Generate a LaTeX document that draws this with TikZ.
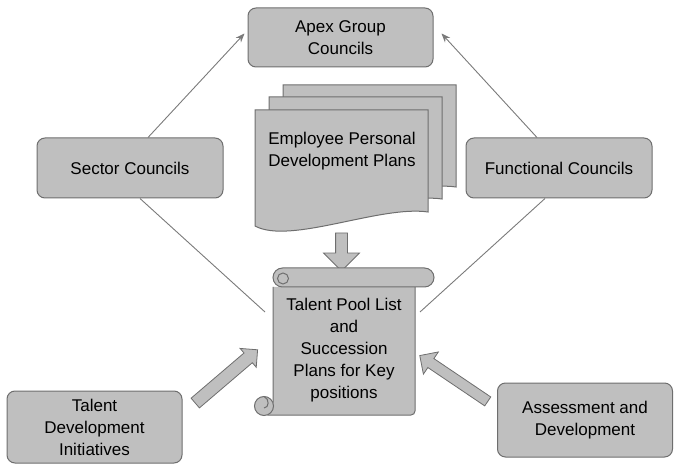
\documentclass[tikz,border=0pt]{standalone}
\usepackage{fontspec}
\setmainfont{Liberation Sans}
\usetikzlibrary{shapes.arrows, arrows.meta, calc}
\definecolor{boxfill}{HTML}{BFBFBF}
\definecolor{boxline}{HTML}{6E6E6E}
\definecolor{linkgray}{HTML}{7A7A7A}
\tikzstyle{council} = [rectangle, rounded corners=8pt, minimum width=186pt, minimum height=60pt, text centered, align=center, draw=boxline, line width=1pt, fill=boxfill]
\tikzstyle{page} = [draw=boxline, line width=1pt, fill=boxfill]
\tikzstyle{fatarrow} = [single arrow, single arrow head indent=0pt, minimum width=0pt, minimum height=82pt, draw=boxline, line width=0.8pt, fill=boxfill]
\tikzstyle{link} = [draw=linkgray, line width=0.9pt]
\tikzstyle{arrow} = [link, ->, >={Stealth[length=9pt, width=7pt]}]

\begin{document}
\begin{tikzpicture}[x=1pt, y=-1pt, font=\fontsize{17}{22}\selectfont]
	\useasboundingbox (0,0) rectangle (675,465);

	\node (apex) [council, minimum width=185pt, minimum height=59pt] at (340.5,37.5) {Apex Group\\Councils};
	\node (sector) [council] at (130,168) {Sector Councils};
	\node (functional) [council] at (559,168) {Functional Councils};
	\node (talentdev) [council, minimum width=175pt, minimum height=72pt] at (94.5,427) {Talent\\Development\\Initiatives};
	\node (assess) [council, minimum width=175pt, minimum height=74pt] at (585,420) {Assessment and\\Development};

	\node (feed) [fatarrow, rotate=-90, minimum height=38pt, inner sep=5.5pt, single arrow head extend=12pt] at (341.5,249) {};
	\foreach \dx/\dy in {28/-25, 14/-13, 0/0}
		\filldraw[page, shift={(\dx,\dy)}] (255,110) -- (428,110) -- (428,212) .. controls (380,205) and (290,245) .. (255,226) -- cycle;
	\node (plans) [align=center] at (342,151) {Employee Personal\\Development Plans};

	\filldraw[page, rounded corners=4pt] (273,287) -- (273,406) -- (264,406) -- (264,415) -- (415,415) -- (415,287);
	\filldraw[page] (264,406) circle (9.5);
	\draw[page] (264,396.5) .. controls (270,399) and (269,408) .. (264,408);
	\filldraw[page, rounded corners=9.5pt] (273,268) rectangle (434,287);
	\filldraw[page] (283,278.5) circle (5.5);
	\node (pool) [align=center] at (344,350) {Talent Pool List\\and\\Succession\\Plans for Key\\positions};
	\coordinate (poolL) at (265,312);
	\coordinate (poolR) at (420,312);

	\node (fromdev) [fatarrow, rotate=40.5, inner sep=6pt, single arrow head extend=6pt] at (224,378.5) {};
	\node (fromassess) [fatarrow, rotate=146, inner sep=5pt, single arrow head extend=8pt] at (456,380) {};

	\draw [arrow] ([xshift=18pt]sector.north) -- ([xshift=-3pt, yshift=4pt]apex.west);
	\draw [arrow] ([xshift=-22pt]functional.north) -- ([xshift=8pt, yshift=4pt]apex.east);
	\draw [link] ([xshift=10pt]sector.south) -- (poolL);
	\draw [link] ([xshift=-14pt]functional.south) -- (poolR);

\end{tikzpicture}
\end{document}
